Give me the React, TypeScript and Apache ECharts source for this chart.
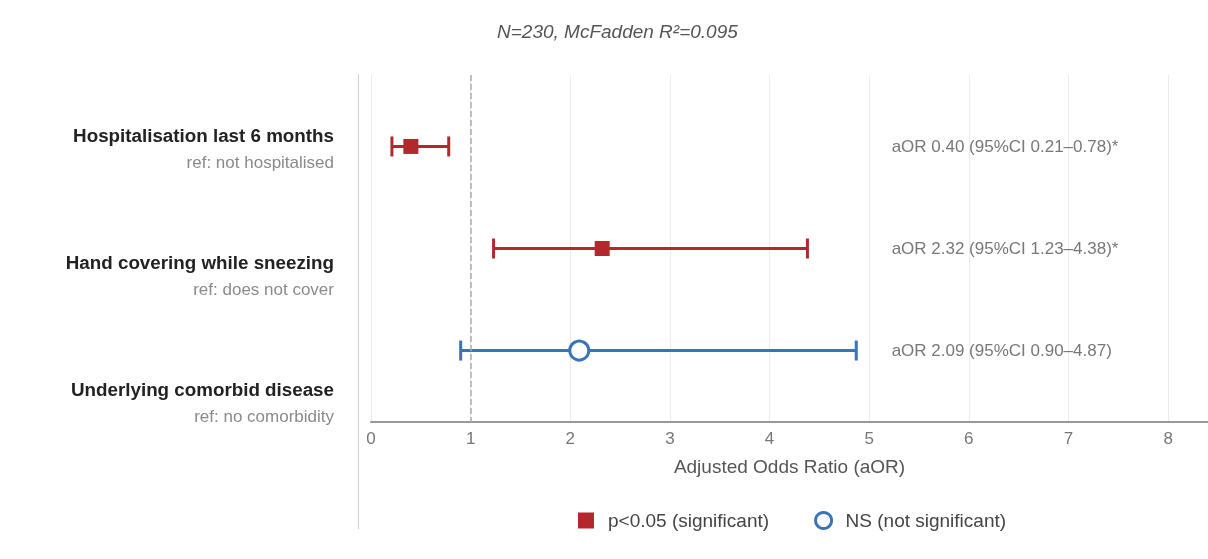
import React, { useEffect, useRef } from "react";
import * as echarts from "echarts";

const rowLabels = [
  "Hospitalisation last 6 months",
  "Hand covering while sneezing",
  "Underlying comorbid disease",
];
const refLabels = ["ref: not hospitalised", "ref: does not cover", "ref: no comorbidity"];
const aOR = [0.4, 2.32, 2.09];
const ciLow = [0.21, 1.23, 0.9];
const ciHigh = [0.78, 4.38, 4.87];
const significant = [1, 1, 0];
const titleText = "N=230, McFadden R\u00b2=0.095";
const sigName = "p<0.05 (significant)";
const nsName = "NS (not significant)";

const RED = "#B2282C";
const BLUE = "#3B73B9";
const FONT = "'Liberation Sans', Arial, Helvetica, sans-serif";

export default function App() {
  const ref = useRef<HTMLDivElement>(null);
  useEffect(() => {
    if (!ref.current) return;
    const chart = echarts.init(ref.current, undefined, { renderer: "svg" });

    const errData = aOR.map((_, i) => [ciLow[i], ciHigh[i], i, significant[i]]);
    const sigData = aOR.map((v, i) => (significant[i] ? [v, i] : null)).filter(Boolean);
    const nsData = aOR.map((v, i) => (!significant[i] ? [v, i] : null)).filter(Boolean);
    const annCol = 5.22;
    const annData = aOR.map((v, i) => ({
      value: [annCol, i],
      label: {
        formatter:
          "aOR " + v.toFixed(2) + " (95%CI " + ciLow[i].toFixed(2) + "\u2013" + ciHigh[i].toFixed(2) + ")" +
          (significant[i] ? "*" : ""),
      },
    }));

    chart.setOption({
      animation: false,
      textStyle: { fontFamily: FONT },
      title: {
        text: titleText,
        left: 492,
        top: 17,
        textStyle: { fontSize: 19, fontStyle: "italic", fontWeight: "normal", color: "#555", fontFamily: FONT },
      },
      legend: {
        data: [
          { name: sigName, icon: "rect" },
          { name: nsName, icon: "circle", itemStyle: { color: "#fff", borderColor: BLUE, borderWidth: 3 } },
        ],
        left: 573,
        top: 506,
        itemWidth: 16,
        itemHeight: 16,
        itemGap: 45,
        textStyle: { fontSize: 19, color: "#444", fontFamily: FONT, padding: [0, 0, 0, 9] },
      },
      grid: [
        { left: 371, right: 0, top: 75, height: 347 },
        { left: 358, width: 1, top: 86, height: 380 },
      ],
      xAxis: [
        {
          type: "value",
          gridIndex: 0,
          min: 0,
          max: 8.4,
          interval: 1,
          axisLine: { show: true, onZero: false, lineStyle: { color: "#999", width: 2 } },
          axisTick: { show: false },
          axisLabel: {
            fontSize: 17,
            color: "#777",
            margin: 8,
            showMaxLabel: false,
            formatter: (v: number) => String(v),
          },
          splitLine: { show: true, lineStyle: { color: "#ececec", width: 1 } },
          name: "Adjusted Odds Ratio (aOR)",
          nameLocation: "middle",
          nameGap: 35,
          nameTextStyle: { fontSize: 19, color: "#555", fontFamily: FONT },
        },
        { type: "value", gridIndex: 1, show: false },
      ],
      yAxis: [
        { type: "value", gridIndex: 0, min: -0.7, max: 2.7, inverse: true, show: false },
        {
          type: "category",
          gridIndex: 1,
          inverse: true,
          data: rowLabels.map((l, i) => "{b|" + l + "}\n{r|" + refLabels[i] + "}"),
          axisLine: { show: false },
          axisTick: { show: false },
          splitLine: { show: false },
          axisLabel: {
            margin: 24,
            align: "right",
            rich: {
              b: { fontSize: 18.8, fontWeight: "bold", color: "#222", lineHeight: 27, fontFamily: FONT, align: "right" },
              r: { fontSize: 17, color: "#8a8a8a", lineHeight: 27, fontFamily: FONT, align: "right" },
            },
          },
        },
      ],
      graphic: [
        {
          type: "line",
          shape: { x1: 358.5, y1: 74, x2: 358.5, y2: 529 },
          style: { stroke: "#cfcfcf", lineWidth: 1 },
          silent: true,
        },
      ],
      series: [
        {
          type: "custom",
          name: "ci",
          xAxisIndex: 0,
          yAxisIndex: 0,
          encode: { x: [0, 1], y: 2 },
          data: errData,
          z: 2,
          renderItem: (params: any, api: any) => {
            const y = api.value(2);
            const lo = api.coord([api.value(0), y]);
            const hi = api.coord([api.value(1), y]);
            const color = api.value(3) ? RED : BLUE;
            const cap = 10;
            const st = { stroke: color, lineWidth: 3 };
            return {
              type: "group",
              children: [
                { type: "line", shape: { x1: lo[0], y1: lo[1], x2: hi[0], y2: hi[1] }, style: st },
                { type: "line", shape: { x1: lo[0], y1: lo[1] - cap, x2: lo[0], y2: lo[1] + cap }, style: st },
                { type: "line", shape: { x1: hi[0], y1: hi[1] - cap, x2: hi[0], y2: hi[1] + cap }, style: st },
              ],
            };
          },
          markLine: {
            silent: true,
            symbol: ["none", "none"],
            label: { show: false },
            lineStyle: { type: "dashed", color: "#aaa", width: 1.5 },
            data: [{ xAxis: 1 }],
          },
        },
        {
          type: "scatter",
          name: sigName,
          xAxisIndex: 0,
          yAxisIndex: 0,
          symbol: "rect",
          symbolSize: 15,
          itemStyle: { color: RED, opacity: 1 },
          data: sigData,
          z: 5,
        },
        {
          type: "scatter",
          name: nsName,
          xAxisIndex: 0,
          yAxisIndex: 0,
          symbol: "circle",
          symbolSize: 19,
          itemStyle: { color: "#fff", borderColor: BLUE, borderWidth: 3, opacity: 1 },
          data: nsData,
          z: 5,
        },
        {
          type: "scatter",
          name: "annotations",
          xAxisIndex: 0,
          yAxisIndex: 0,
          symbolSize: 1,
          itemStyle: { color: "rgba(0,0,0,0)" },
          silent: true,
          label: { show: true, position: "right", distance: 0, fontSize: 17, color: "#555", fontFamily: FONT },
          data: annData,
        },
      ],
    });
    return () => chart.dispose();
  }, []);
  return <div ref={ref} style={{ position: "fixed", left: 0, top: 0, width: 1208, height: 559 }} />;
}
